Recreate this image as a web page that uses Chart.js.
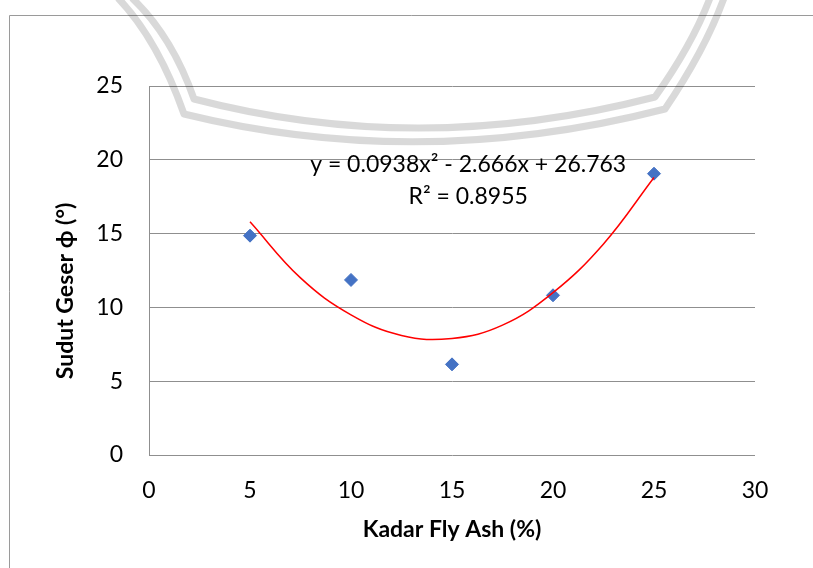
<!DOCTYPE html>
<html>
<head>
<meta charset="utf-8">
<script src="https://cdn.jsdelivr.net/npm/chart.js@4"></script>
<style>
  html, body { margin: 0; padding: 0; background: #ffffff; }
  #wrap { width: 813px; height: 568px; }
</style>
</head>
<body>
<div id="wrap"><canvas id="c" width="813" height="568"></canvas></div>
<script>
// ---- data ----
const kadarFlyAsh = [5, 10, 15, 20, 25];
const sudutGeser = [14.86, 11.86, 6.14, 10.82, 19.06];
// polynomial trendline as drawn
const trendX = [5, 7.5, 10, 12.5, 15, 17.5, 20, 22.5, 25];
const trendY = [15.8, 12.0, 9.5, 8.1, 7.9, 8.8, 11.0, 14.3, 18.8];
const xTicks = [0, 5, 10, 15, 20, 25, 30];
const yTicks = [0, 5, 10, 15, 20, 25];
const xTitle = 'Kadar Fly Ash (%)';
const yTitle = 'Sudut Geser \u03D5 (\u00B0)';
const eqLine1 = 'y = 0.0938x\u00B2 - 2.666x + 26.763';
const eqLine2 = 'R\u00B2 = 0.8955';

const FONT = 'Lato, "Liberation Sans", sans-serif';
const GRID = '#8f8f8f';

const decor = {
  id: 'decor',
  beforeDraw(chart) {
    const ctx = chart.ctx;
    ctx.save();
    ctx.fillStyle = '#ffffff';
    ctx.fillRect(0, 0, chart.width, chart.height);
    // outer chart frame (left and top edges visible)
    ctx.strokeStyle = '#9a9a9a';
    ctx.lineWidth = 1;
    ctx.beginPath();
    ctx.moveTo(9.5, chart.height); ctx.lineTo(9.5, 15.5); ctx.lineTo(chart.width, 15.5);
    ctx.stroke();
    ctx.restore();
  },
  afterDraw(chart) {
    const ctx = chart.ctx;
    const xs = chart.scales.x, ys = chart.scales.y;
    ctx.save();
    ctx.fillStyle = '#000';
    ctx.textAlign = 'center';
    ctx.textBaseline = 'middle';
    // equation label
    ctx.font = '23px ' + FONT;
    ctx.fillText(eqLine1, xs.getPixelForValue(15.8), ys.getPixelForValue(19.7));
    ctx.fillText(eqLine2, xs.getPixelForValue(15.8), ys.getPixelForValue(17.5));
    // axis titles
    ctx.font = 'bold 23px ' + FONT;
    ctx.fillText(xTitle, (chart.chartArea.left + chart.chartArea.right) / 2, 530);
    ctx.translate(66, 291);
    ctx.rotate(-Math.PI / 2);
    ctx.fillText(yTitle, 0, 0);
    ctx.restore();

    // faint semi-transparent watermark bands overlaid on top
    ctx.save();
    ctx.strokeStyle = 'rgba(0,0,0,0.15)';
    ctx.lineWidth = 7;
    ctx.lineJoin = 'round';
    ctx.beginPath();
    ctx.moveTo(118, -2); ctx.quadraticCurveTo(158, 40, 184, 114);
    ctx.quadraticCurveTo(420, 172, 665, 109); ctx.quadraticCurveTo(705, 50, 724, -2);
    ctx.stroke();
    ctx.beginPath();
    ctx.moveTo(132, -2); ctx.quadraticCurveTo(172, 36, 194, 99);
    ctx.quadraticCurveTo(420, 158, 655, 97); ctx.quadraticCurveTo(692, 45, 710, -2);
    ctx.stroke();
    ctx.restore();
  }
};

new Chart(document.getElementById('c'), {
  type: 'scatter',
  data: {
    datasets: [
      {
        label: 'Trendline',
        data: trendX.map((x, i) => ({ x: x, y: trendY[i] })),
        showLine: true,
        borderColor: '#ff0000',
        borderWidth: 1.5,
        pointRadius: 0,
        tension: 0.4,
        fill: false,
        order: 0
      },
      {
        label: 'Sudut Geser',
        data: kadarFlyAsh.map((x, i) => ({ x: x, y: sudutGeser[i] })),
        pointStyle: 'rectRot',
        pointRadius: 6.5,
        pointHoverRadius: 6.5,
        backgroundColor: '#4472C4',
        borderColor: '#4472C4',
        borderWidth: 1,
        order: 1
      }
    ]
  },
  options: {
    responsive: false,
    animation: false,
    devicePixelRatio: 1,
    layout: { padding: { left: 0, right: 58, top: 86, bottom: 0 } },
    plugins: { legend: { display: false }, tooltip: { enabled: false } },
    scales: {
      x: {
        type: 'linear',
        min: 0, max: 30,
        afterBuildTicks: (s) => { s.ticks = xTicks.map(v => ({ value: v })); },
        afterFit: (s) => { s.height = 113; },
        grid: { display: false, drawTicks: false },
        border: { display: false },
        ticks: { color: '#000', font: { family: FONT, size: 23 }, padding: 22, maxRotation: 0 }
      },
      y: {
        type: 'linear',
        min: 0, max: 25,
        afterBuildTicks: (s) => { s.ticks = yTicks.map(v => ({ value: v })); },
        afterFit: (s) => { s.width = 149; },
        grid: { color: GRID, lineWidth: 1, drawTicks: false },
        border: { display: true, color: GRID, width: 1 },
        ticks: { color: '#000', font: { family: FONT, size: 23 }, padding: 26 }
      }
    }
  },
  plugins: [decor]
});
</script>
</body>
</html>
